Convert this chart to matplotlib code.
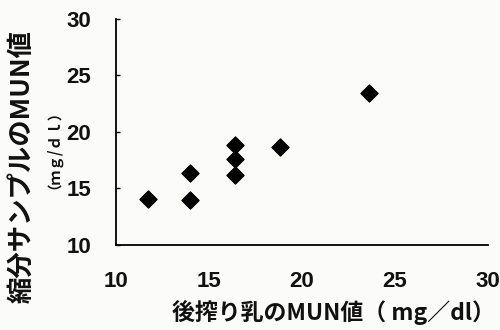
import matplotlib.pyplot as plt

plt.rcParams['font.family'] = ['Noto Sans CJK JP', 'DejaVu Sans']

# MUN of stripping milk vs. composite sample (mg/dl)
after_milk_mun = [11.7, 14.0, 14.0, 16.4, 16.4, 16.4, 18.8, 23.6]
sample_mun = [14.1, 16.4, 14.0, 18.8, 17.6, 16.2, 18.7, 23.4]
ticks = [10, 15, 20, 25, 30]

fig = plt.figure(figsize=(5, 3.3), dpi=100, facecolor='#fbfbfa')
ax = fig.add_axes([0.232, 0.258, 0.744, 0.685])
ax.set_facecolor('#fbfbfa')

ax.scatter(after_milk_mun, sample_mun, marker='D', s=75, color='black', zorder=3)

ax.set_xlim(10, 30)
ax.set_ylim(10, 30)
ax.set_xticks(ticks)
ax.set_yticks(ticks)
ax.spines['top'].set_visible(False)
ax.spines['right'].set_visible(False)
ax.spines['left'].set_linewidth(1.3)
ax.spines['bottom'].set_linewidth(1.3)
ax.tick_params(axis='y', direction='in', length=3, width=1, pad=18)
ax.tick_params(axis='x', length=0, pad=19)
for lab in ax.get_xticklabels() + ax.get_yticklabels():
    lab.set_family(['Liberation Sans Narrow', 'Liberation Sans', 'DejaVu Sans'])
    lab.set_fontsize(16)
    lab.set_fontweight('bold')
    lab.set_color('#111111')

fig.text(0.666, 0.052, '後搾り乳のMUN値（ mg／dl）', ha='center', va='center',
         fontsize=16.5, fontweight='bold', color='#111111')
fig.text(0.044, 0.495, '縮分サンプルのMUN値', ha='center', va='center',
         rotation=90, fontsize=19, fontweight='bold', color='#111111')
fig.text(0.093, 0.57, '（ｍｇ/ｄｌ）', ha='center', va='center',
         rotation=90, fontsize=10.5, fontweight='bold', color='#111111')

fig.savefig('out.png', dpi=100, facecolor=fig.get_facecolor())
